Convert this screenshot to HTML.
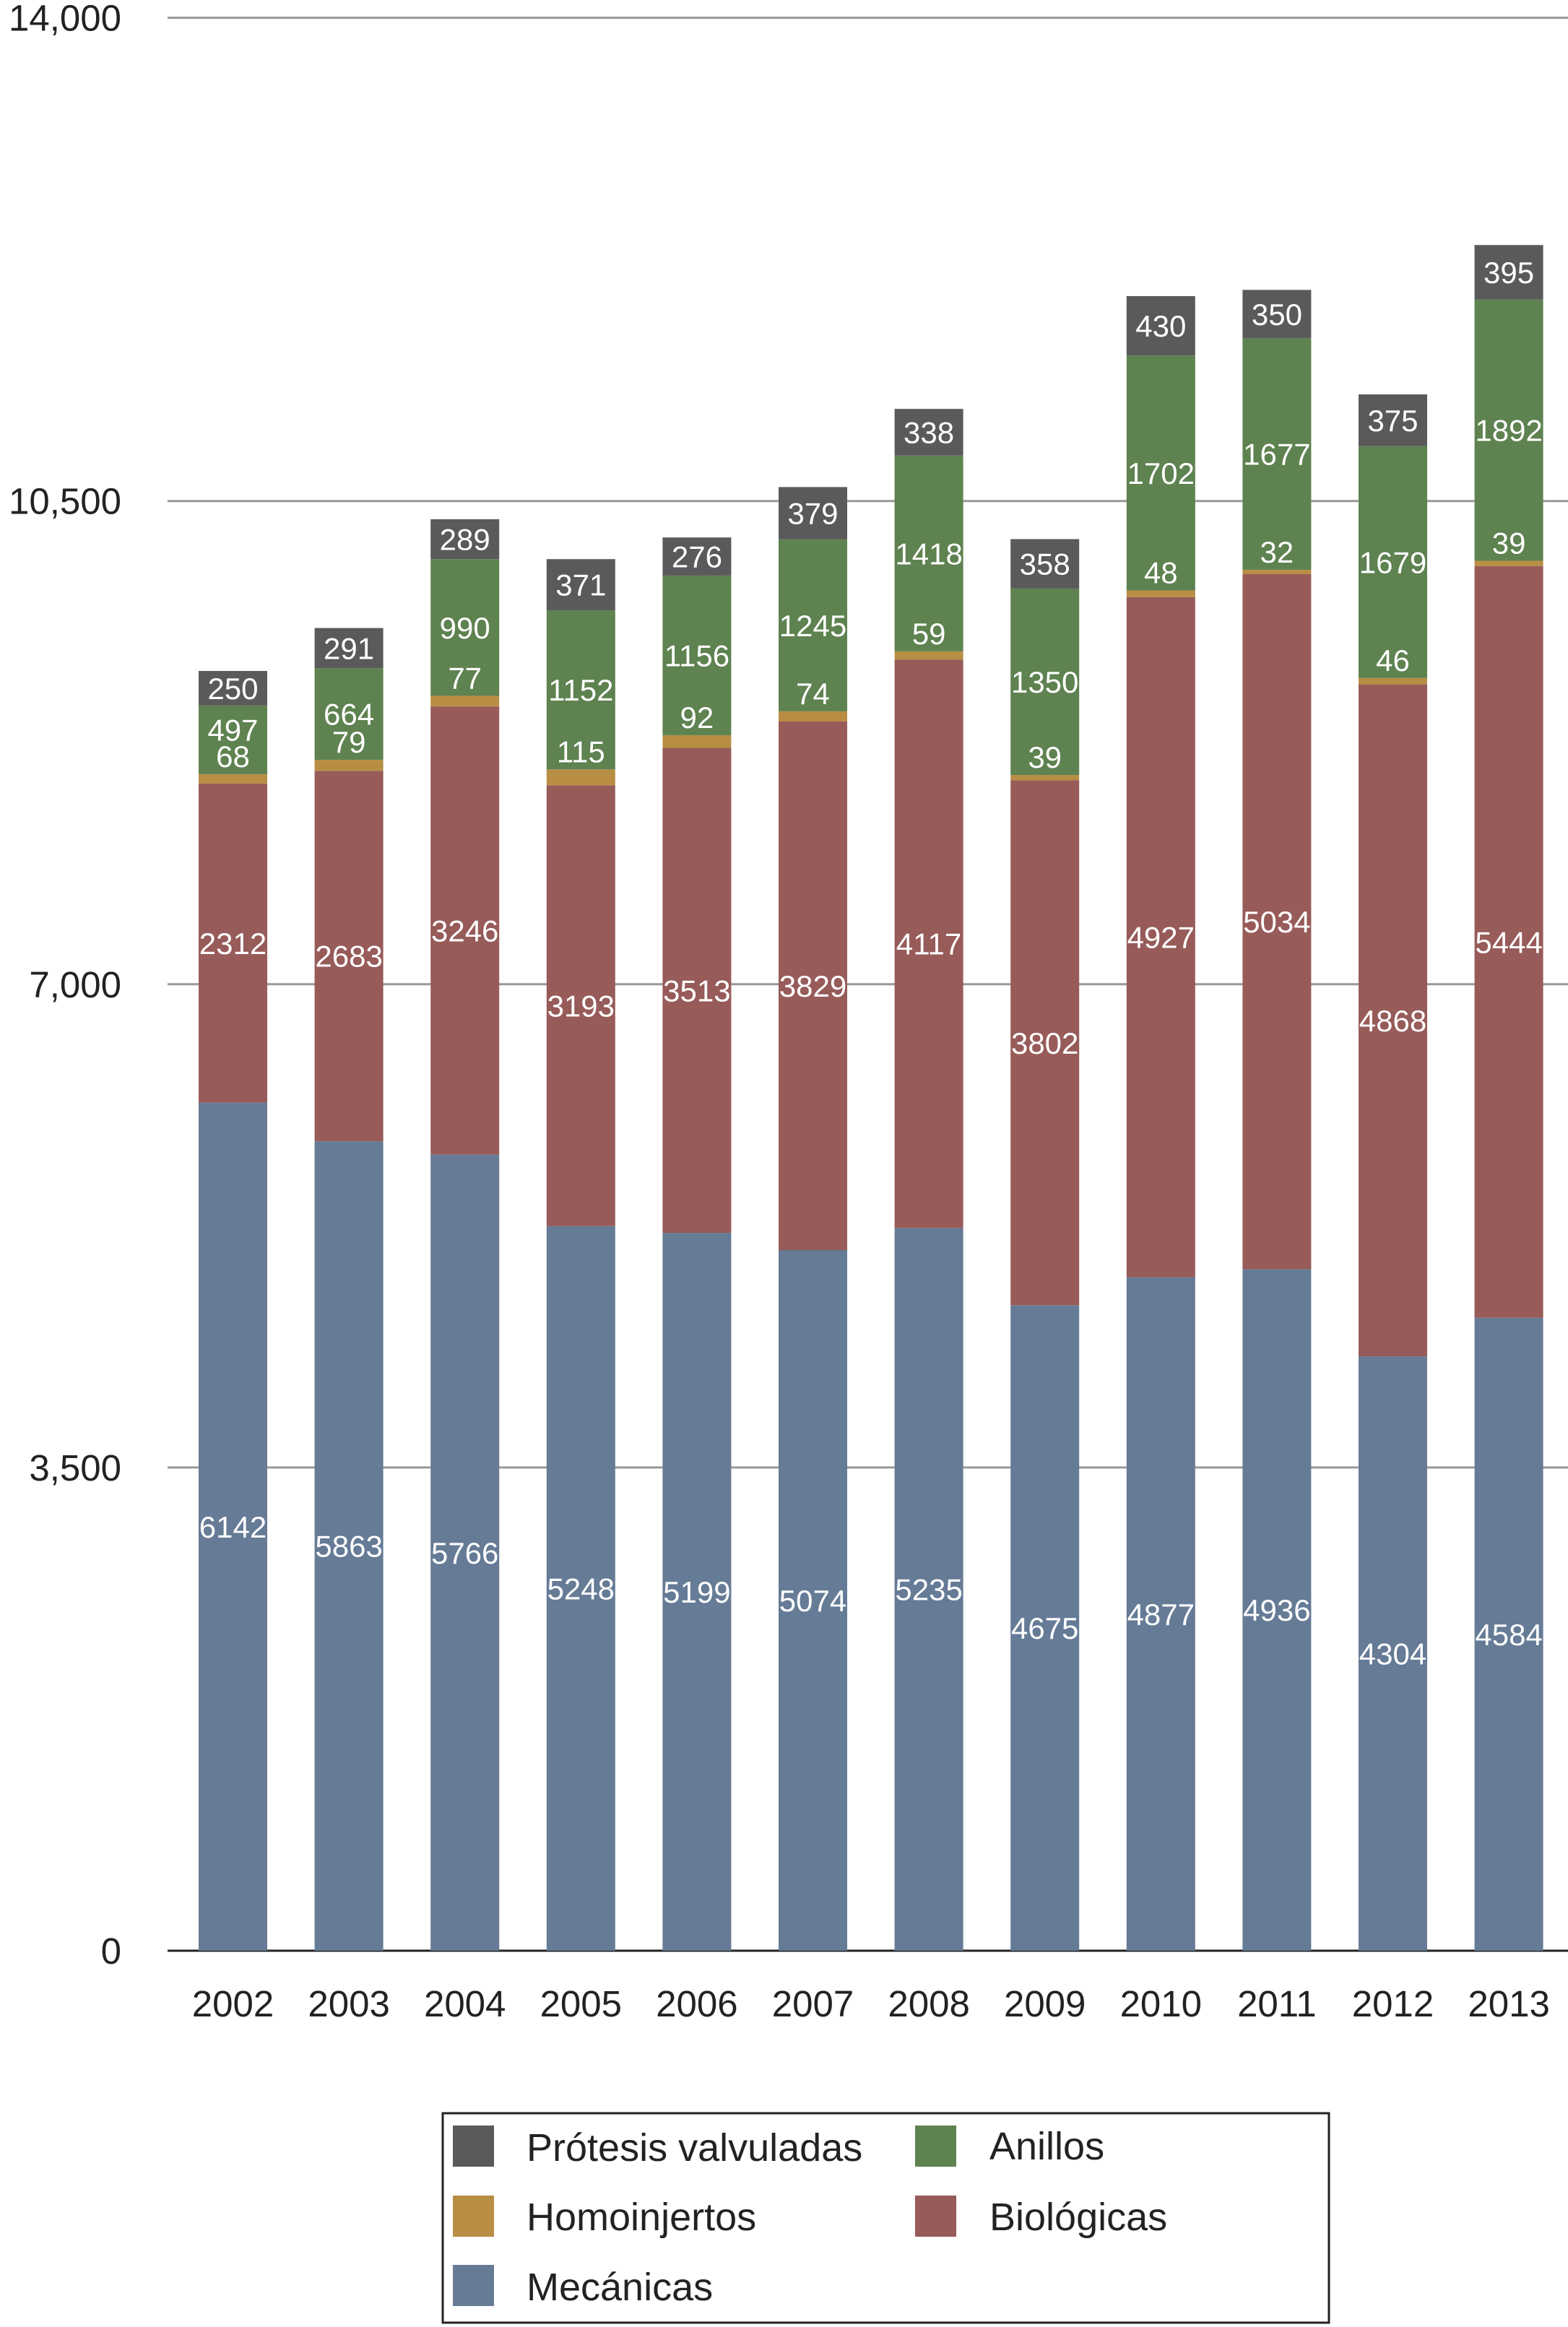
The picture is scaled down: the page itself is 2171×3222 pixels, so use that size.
<!DOCTYPE html>
<html><head><meta charset="utf-8"><style>
html,body{margin:0;padding:0;background:#fff;}
svg{display:block;font-family:"Liberation Sans",Arial,sans-serif;}
</style></head><body>
<svg id="chart" width="2171" height="3222" viewBox="0 0 2171 3222" xmlns="http://www.w3.org/2000/svg">
<g id="grid"></g>
<g id="bars"></g>
<g id="labels"></g>
<g id="axis"></g>
<g>
<rect x="613" y="2926" width="1227" height="290" fill="#fff" stroke="#222" stroke-width="3"/>
<rect x="627" y="2943" width="57" height="57" fill="#5a5a5a"/>
<text x="729" y="2992" font-size="54" fill="#222">Prótesis valvuladas</text>
<rect x="1267" y="2943" width="57" height="57" fill="#5e8250"/>
<text x="1370" y="2990" font-size="54" fill="#222">Anillos</text>
<rect x="627" y="3040" width="57" height="57" fill="#b88e45"/>
<text x="729" y="3088" font-size="54" fill="#222">Homoinjertos</text>
<rect x="1267" y="3040" width="57" height="57" fill="#975b59"/>
<text x="1370" y="3088" font-size="54" fill="#222">Biológicas</text>
<rect x="627" y="3136" width="57" height="57" fill="#657b96"/>
<text x="729" y="3185" font-size="54" fill="#222">Mecánicas</text>
</g>
</svg>
<script>
const years = ["2002","2003","2004","2005","2006","2007","2008","2009","2010","2011","2012","2013"];
const mecanicas = [6142,5863,5766,5248,5199,5074,5235,4675,4877,4936,4304,4584];
const biologicas = [2312,2683,3246,3193,3513,3829,4117,3802,4927,5034,4868,5444];
const homoinjertos = [68,79,77,115,92,74,59,39,48,32,46,39];
const anillos = [497,664,990,1152,1156,1245,1418,1350,1702,1677,1679,1892];
const protesis = [250,291,289,371,276,379,338,358,430,350,375,395];
const yTicks = [0,3500,7000,10500,14000];
const yTickLabels = ["0","3,500","7,000","10,500","14,000"];

const NS = "http://www.w3.org/2000/svg";
const Y0 = 2701, YTOP = 24.6, YMAX = 14000;
function y(v){ return Y0 - v/YMAX*(Y0-YTOP); }
function xc(i){ return 322.5 + i*160.6; }
const BW = 95;
function mk(tag, attrs, parent){ const e=document.createElementNS(NS,tag); for(const k in attrs) e.setAttribute(k,attrs[k]); parent.appendChild(e); return e; }
const grid=document.getElementById('grid'), bars=document.getElementById('bars'), labels=document.getElementById('labels'), axis=document.getElementById('axis');

yTicks.forEach((t,i)=>{
  const l = mk('line',{x1:232,x2:2171,y1:y(t),y2:y(t),stroke:i===0?'#222':'#999','stroke-width':3},grid);
  
  
  const tx = mk('text',{x:168,y:y(t)+18,'text-anchor':'end','font-size':51,fill:'#222'},axis);
  tx.textContent = yTickLabels[i];
  
  
});

const series = [
  {name:'mecanicas', data:mecanicas, color:'#657b96'},
  {name:'biologicas', data:biologicas, color:'#975b59'},
  {name:'homoinjertos', data:homoinjertos, color:'#b88e45'},
  {name:'anillos', data:anillos, color:'#5e8250'},
  {name:'protesis', data:protesis, color:'#5a5a5a'}
];

years.forEach((yr,i)=>{
  let cum = 0;
  series.forEach(s=>{
    const v = s.data[i];
    const top = y(cum+v), bot = y(cum);
    const r = mk('rect',{x:xc(i)-BW/2,y:top,width:BW,height:bot-top,fill:s.color},bars);
    
    
    let ly = (top+bot)/2 + 15;
    if(s.name==='homoinjertos') ly = top - 10;
    if(s.name==='anillos' && v < 600) ly -= 14;
    const t = mk('text',{x:xc(i),y:ly,'text-anchor':'middle','font-size':42,fill:'#fff'},labels);
    t.textContent = v;
    
    
    cum += v;
  });
  const xl = mk('text',{x:xc(i),y:2792,'text-anchor':'middle','font-size':51,fill:'#222'},axis);
  xl.textContent = yr;
  
  
});
</script>
</body></html>
